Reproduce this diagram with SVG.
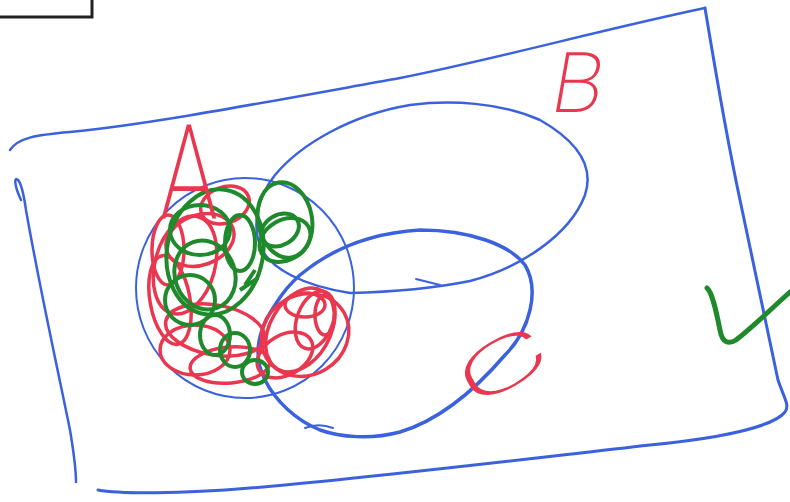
<svg xmlns="http://www.w3.org/2000/svg" width="790" height="502" viewBox="0 0 790 502">
<style>
.b{fill:none;stroke:#3b62dc;stroke-linecap:round;stroke-linejoin:round}
.r{fill:none;stroke:#e8374f;stroke-width:3.5}
.g{fill:none;stroke:#1f8a2c;stroke-width:4}
.lbl{fill:#e8374f;font-family:Roboto,"Liberation Sans",sans-serif;font-weight:200}
</style>
<rect width="790" height="502" fill="#fff"/>
<g id="corner-box"><path d="M0,17 L92,17 L92,0" fill="none" stroke="#222" stroke-width="3"/></g>
<g id="universe">
<path class="b" stroke-width="2.5" d="M10,150 C18,138 35,135 70,132 C150,124 250,105 400,78 C500,58 600,30 705,8"/>
<path class="b" stroke-width="3" d="M705,8 C712,50 725,130 740,200 C755,270 770,340 778,380 C784,398 790,405 785,412 C775,425 730,437 650,445 C500,462 350,480 250,488 C180,494 120,494 98,490"/>
<path class="b" stroke-width="2.5" d="M21,200 C14,185 14,176 18,180 C22,184 24,196 26,210 C40,290 60,380 70,430 C75,460 76,475 76,482"/>
</g>
<g id="set-A"><ellipse class="b" stroke-width="2" cx="245" cy="288" rx="109" ry="110"/></g>
<g id="set-B">
<path class="b" stroke-width="2.5" d="M350,293 C390,292 430,289 470,281 C520,268 570,235 585,195 C595,165 575,140 540,120 C500,102 450,100 410,105 C350,115 300,145 275,175 C255,200 252,230 262,250 C272,268 300,285 350,293"/>
<path class="b" stroke-width="2" d="M416,279 L440,285"/>
</g>
<g id="set-C">
<path class="b" stroke-width="3.5" d="M300,275 C330,250 370,233 420,230 C470,230 510,245 525,265 C540,290 530,330 505,355 C475,390 440,420 400,432 C370,440 340,437 320,430 C295,420 275,400 265,380 C252,355 258,330 275,305 C283,292 292,282 300,275"/>
<path class="b" stroke-width="2" d="M305,428 C315,424 325,425 333,428"/>
</g>
<g id="red-shading">
<ellipse class="r" cx="185" cy="265" rx="30" ry="50" transform="rotate(15 185 265)"/>
<ellipse class="r" cx="170" cy="300" rx="20" ry="45" transform="rotate(-10 170 300)"/>
<ellipse class="r" cx="200" cy="240" rx="35" ry="25" transform="rotate(-20 200 240)"/>
<ellipse class="r" cx="215" cy="330" rx="50" ry="25" transform="rotate(10 215 330)"/>
<ellipse class="r" cx="195" cy="350" rx="35" ry="25"/>
<ellipse class="r" cx="230" cy="365" rx="40" ry="18" transform="rotate(-5 230 365)"/>
<ellipse class="r" cx="225" cy="205" rx="25" ry="18" transform="rotate(-20 225 205)"/>
<ellipse class="r" cx="168" cy="250" rx="16" ry="35"/>
<ellipse class="r" cx="305" cy="335" rx="45" ry="40" transform="rotate(-30 305 335)"/>
<ellipse class="r" cx="300" cy="330" rx="30" ry="45" transform="rotate(30 300 330)"/>
<ellipse class="r" cx="315" cy="320" rx="18" ry="30" transform="rotate(20 315 320)"/>
<ellipse class="r" cx="285" cy="355" rx="30" ry="20" transform="rotate(-30 285 355)"/>
<ellipse class="r" cx="305" cy="305" rx="20" ry="12"/>
<ellipse class="r" cx="325" cy="315" rx="10" ry="20"/>
</g>
<g id="green-shading">
<ellipse class="g" cx="215" cy="252" rx="48" ry="63" transform="rotate(10 215 252)"/>
<ellipse class="g" cx="285" cy="220" rx="27" ry="38" transform="rotate(-10 285 220)"/>
<ellipse class="g" cx="285" cy="240" rx="27" ry="20" transform="rotate(-30 285 240)"/>
<ellipse class="g" cx="280" cy="230" rx="20" ry="15" transform="rotate(-30 280 230)"/>
<ellipse class="g" cx="240" cy="243" rx="15" ry="28"/>
<ellipse class="g" cx="205" cy="275" rx="30" ry="35" transform="rotate(-20 205 275)"/>
<ellipse class="g" cx="200" cy="230" rx="30" ry="25"/>
<ellipse class="g" cx="215" cy="335" rx="15" ry="20"/>
<ellipse class="g" cx="235" cy="350" rx="15" ry="17"/>
<ellipse class="g" cx="255" cy="372" rx="13" ry="12"/>
<ellipse class="g" cx="190" cy="300" rx="25" ry="25"/>
<path class="g" d="M245,285 L255,270 M240,290 L258,278"/>
</g>
<g id="check"><path d="M707,288 C712,292 716,310 720,330 C722,342 728,345 736,340 C755,325 772,308 790,292" fill="none" stroke="#1f8a2c" stroke-width="5" stroke-linecap="round"/></g>
<g id="labels">
<text class="lbl" font-size="132" transform="translate(160 218) scale(0.72 1)">A</text>
<text class="lbl" font-size="84" transform="translate(548 112) skewX(-10)">B</text>
<text class="lbl" font-size="86" transform="translate(472 410) rotate(-30) scale(1.75 0.8)">C</text>
</g>
</svg>
